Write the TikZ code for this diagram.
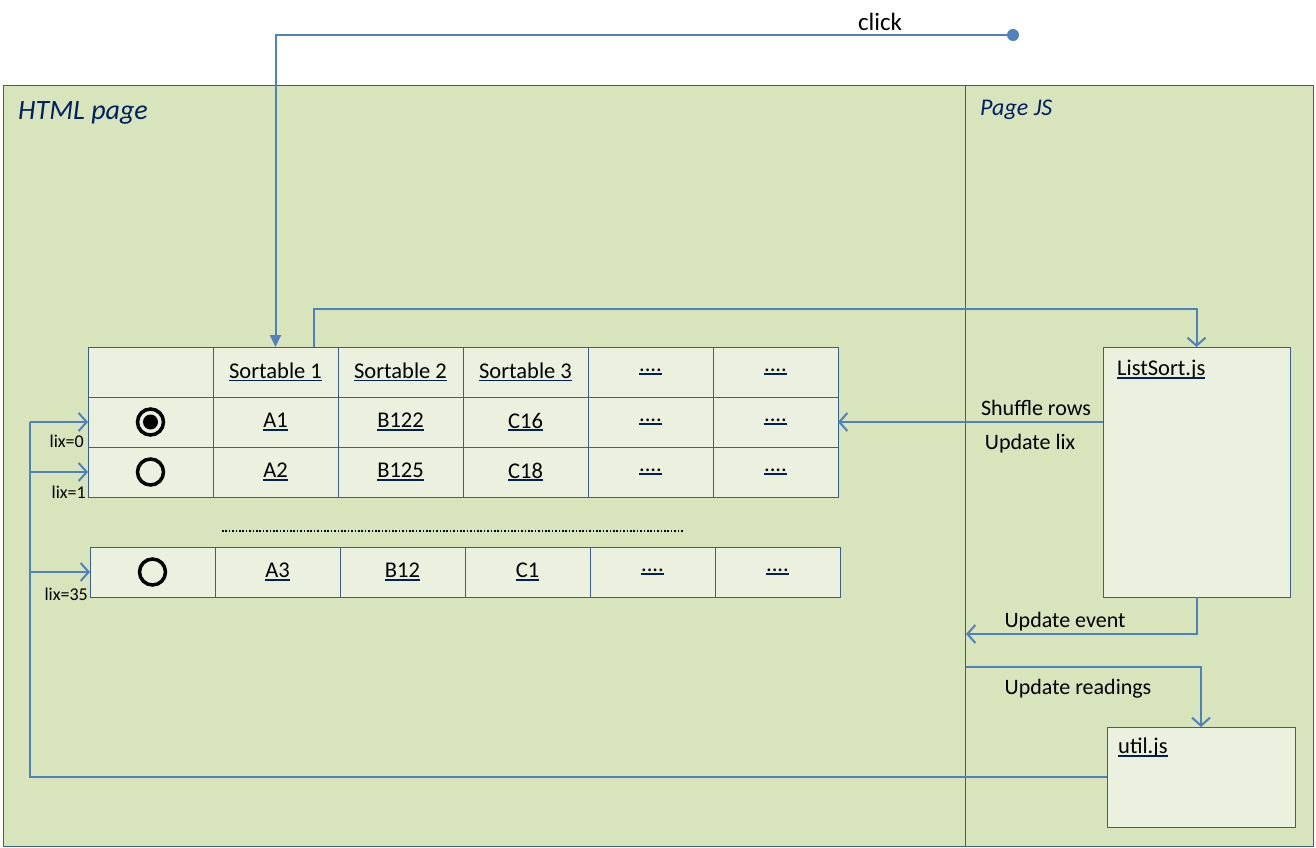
\documentclass[tikz,border=0pt]{standalone}
\usepackage{fontspec}
\setmainfont{Carlito}
\usetikzlibrary{arrows.meta}
\definecolor{pagebg}{HTML}{D8E4BC}
\definecolor{cellbg}{HTML}{EBF1DE}
\definecolor{framec}{HTML}{3A5F8B}
\definecolor{conn}{HTML}{4F81BD}
\definecolor{linkc}{HTML}{002060}
\newsavebox\lnkbox
\newcommand{\lnk}[1]{\sbox\lnkbox{#1}\textcolor{linkc}{\usebox\lnkbox\llap{\rule[-3pt]{\wd\lnkbox}{1.8pt}}}}
\begin{document}
\begin{tikzpicture}[x=1pt,y=-1pt,
  panel/.style={draw=framec, fill=pagebg, line width=1pt, anchor=north west, inner sep=0pt, outer sep=0pt},
  box/.style={draw=framec, fill=cellbg, line width=1pt, anchor=north west, inner sep=0pt, outer sep=0pt},
  cell/.style={draw=framec, fill=cellbg, line width=0.9pt, minimum width=125pt, minimum height=50pt, inner sep=0pt, outer sep=0pt},
  ctext/.style={font=\fontsize{22.5}{26}\selectfont},
  radio/.style={circle, draw=black, line width=3.5pt, minimum size=26pt, inner sep=0pt},
  wire/.style={draw=conn, line width=2pt},
  openarrow/.style={wire, -{Straight Barb[length=8pt, width=18pt, line width=2pt]}},
  lbl/.style={font=\fontsize{22}{26}\selectfont, inner sep=0pt},
  lixlbl/.style={font=\fontsize{18}{21}\selectfont, inner sep=0pt, anchor=east},
]
\useasboundingbox (0,0) rectangle (1316,847);
% panels
\node[panel, minimum width=962pt, minimum height=761pt] (html) at (3,85) {};
\node[panel, minimum width=348pt, minimum height=761pt] (pjs) at (965,85) {};
\node[anchor=west, inner sep=0pt, text=linkc, font=\fontsize{28}{32}\selectfont\itshape] (htmlt) at (18,113) {HTML page};
\node[anchor=west, inner sep=0pt, text=linkc, font=\fontsize{24}{28}\selectfont\itshape] (pjst) at (980,110) {Page JS};
% table 1
\foreach \r/\yy in {0/372,1/422,2/472}{
  \foreach \c in {0,...,5}{
    \node[cell] (r\r c\c) at (150.5+125*\c,\yy) {};
  }
}
% table 2
\foreach \c in {0,...,5}{
  \node[cell] (s0c\c) at (152.5+125*\c,572) {};
}
% table text
\node[ctext] at (r0c1) {\lnk{Sortable 1}};
\node[ctext] at (r0c2) {\lnk{Sortable 2}};
\node[ctext] at (r0c3) {\lnk{Sortable 3}};
\node[ctext] at (r0c4) {\lnk{....}};
\node[ctext] at (r0c5) {\lnk{....}};
\node[ctext] at (r1c1) {\lnk{A1}};
\node[ctext] at (r1c2) {\lnk{B122}};
\node[ctext] at (r1c3) {\lnk{C16}};
\node[ctext] at (r1c4) {\lnk{....}};
\node[ctext] at (r1c5) {\lnk{....}};
\node[ctext] at (r2c1) {\lnk{A2}};
\node[ctext] at (r2c2) {\lnk{B125}};
\node[ctext] at (r2c3) {\lnk{C18}};
\node[ctext] at (r2c4) {\lnk{....}};
\node[ctext] at (r2c5) {\lnk{....}};
\node[ctext] at (s0c1) {\lnk{A3}};
\node[ctext] at (s0c2) {\lnk{B12}};
\node[ctext] at (s0c3) {\lnk{C1}};
\node[ctext] at (s0c4) {\lnk{....}};
\node[ctext] at (s0c5) {\lnk{....}};
% radio buttons
\node[radio] (rb0) at (r1c0) {};
\fill[black] (rb0.center) circle (7.5);
\node[radio] (rb1) at (r2c0) {};
\node[radio] (rb2) at (s0c0) {};
% dotted separator
\coordinate (dotA) at (222,531);
\coordinate (dotB) at (683,531);
\draw[line width=1.6pt, dash pattern=on 1.6pt off 1.8pt] (dotA) -- (dotB);
% JS boxes
\node[box, minimum width=187pt, minimum height=250pt] (listsort) at (1103,347) {};
\node[anchor=west, inner sep=0pt, ctext] (lst) at (1117,370) {\lnk{ListSort.js}};
\node[box, minimum width=188pt, minimum height=100pt] (util) at (1107,727) {};
\node[anchor=west, inner sep=0pt, ctext] (utt) at (1118,748) {\lnk{util.js}};
% click connector
\coordinate (clickstart) at (1013,35);
\fill[conn] (clickstart) circle (6);
\draw[wire, -{Triangle[length=12pt, width=11pt]}] (clickstart) -| (r0c1.north);
\node[lbl, font=\fontsize{25}{29}\selectfont] (clickl) at (880,22) {click};
% sort connector
\coordinate (sortsrc) at (314,347);
\coordinate (sorttop) at (314,309);
\draw[openarrow] (sortsrc) -- (sorttop) -| (listsort.north);
% shuffle rows
\draw[openarrow] (listsort.west |- r1c5.east) -- (r1c5.east);
\node[lbl] (shl) at (1036,408) {Shuffle rows};
\node[lbl] (ull) at (1030,444) {Update lix};
% update event
\coordinate (evtend) at (966,634);
\draw[openarrow] (listsort.south) |- (evtend);
\node[lbl] (uel) at (1065,622) {Update event};
% update readings
\coordinate (rdstart) at (966,667);
\draw[openarrow] (rdstart) -| (util.north);
\node[lbl] (url) at (1078,689) {Update readings};
% util to rows
\coordinate (bus0) at (30,422);
\coordinate (bus1) at (30,472);
\coordinate (bus2) at (30,572);
\draw[wire] (util.west) -| (bus0);
\draw[openarrow] (bus0) -- (r1c0.west);
\draw[openarrow] (bus1) -- (r2c0.west);
\draw[openarrow] (bus2) -- (s0c0.west);
\node[lixlbl] (lix0) at (84,441) {lix=0};
\node[lixlbl] (lix1) at (86,492) {lix=1};
\node[lixlbl] (lix2) at (88,594) {lix=35};
\end{tikzpicture}
\end{document}
